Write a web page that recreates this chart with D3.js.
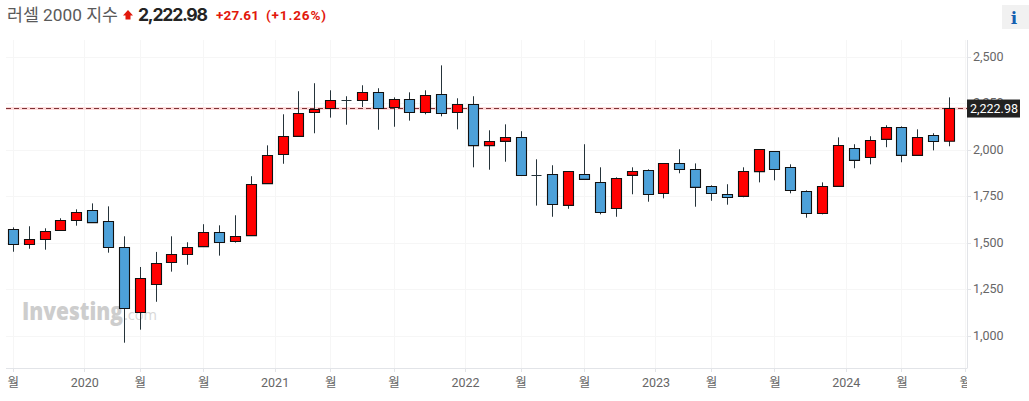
<!DOCTYPE html>
<html>
<head>
<meta charset="utf-8">
<script src="https://cdn.jsdelivr.net/npm/d3@7"></script>
<style>
    html, body { margin: 0; padding: 0; background: #fff; overflow: hidden; }
    text { font-family: Roboto, "Noto Sans CJK KR", sans-serif; }
</style>
</head>
<body>
<div id="chart"></div>
<script>
var months = ["2019-08","2019-09","2019-10","2019-11","2019-12","2020-01","2020-02","2020-03","2020-04","2020-05","2020-06","2020-07",
    "2020-08","2020-09","2020-10","2020-11","2020-12","2021-01","2021-02","2021-03","2021-04","2021-05","2021-06","2021-07",
    "2021-08","2021-09","2021-10","2021-11","2021-12","2022-01","2022-02","2022-03","2022-04","2022-05","2022-06","2022-07",
    "2022-08","2022-09","2022-10","2022-11","2022-12","2023-01","2023-02","2023-03","2023-04","2023-05","2023-06","2023-07",
    "2023-08","2023-09","2023-10","2023-11","2023-12","2024-01","2024-02","2024-03","2024-04","2024-05","2024-06","2024-07"];
var opens = [1574,1493,1520,1568,1622,1676,1617,1477,1127,1278,1396,1439,
    1482,1558,1509,1541,1821,1977,2074,2203,2224,2267,2267,2310,
    2230,2273,2203,2299,2203,2246,2025,2047,2068,1864,1869,1703,
    1869,1826,1687,1864,1891,1767,1928,1896,1805,1762,1751,1885,
    1993,1907,1778,1660,1805,2009,1961,2058,2122,1972,2079,2047];
var closes = [1493,1520,1563,1622,1665,1611,1477,1149,1310,1391,1439,1477,
    1558,1504,1536,1816,1972,2074,2197,2219,2267,2267,2310,2224,
    2273,2203,2294,2197,2246,2025,2047,2068,1864,1864,1708,1885,
    1843,1665,1848,1885,1762,1928,1896,1800,1767,1746,1885,2004,
    1896,1783,1660,1805,2025,1945,2052,2122,1972,2068,2047,2222.98];
var highs = [1584,1590,1579,1633,1681,1713,1697,1536,1371,1452,1536,1504,
    1601,1595,1649,1859,2025,2192,2316,2359,2321,2289,2348,2332,
    2283,2310,2321,2455,2278,2289,2106,2138,2101,1950,1918,1885,
    2031,1907,1853,1907,1896,1928,2004,1928,1810,1816,1907,2004,
    1993,1923,1783,1826,2068,2031,2074,2133,2127,2111,2090,2283];
var lows = [1453,1469,1464,1568,1593,1611,1448,964,1034,1184,1346,1383,
    1482,1432,1502,1541,1821,1926,2074,2090,2174,2136,2231,2109,
    2125,2158,2192,2181,2111,1907,1894,1937,1864,1701,1641,1684,
    1843,1654,1641,1762,1722,1740,1875,1695,1727,1706,1746,1826,
    1837,1767,1636,1654,1805,1902,1923,2015,1934,1972,1998,2020];

var yTicks = [1000,1250,1500,1750,2000,2250,2500];
var yearTicks = [4.5,16.5,28.5,40.5,52.5];
var yearLabels = ["2020","2021","2022","2023","2024"];
var monthTicks = [0,8,12,20,24,32,36,44,48,56,60];
var lastPrice = 2222.98;

var width = 1029, height = 401;
var plotLeft = 6, plotRight = 967, plotTop = 40, plotBottom = 368;

var svg = d3.select("#chart").append("svg")
    .attr("width", width)
    .attr("height", height)
    .style("display", "block");

var x = d3.scaleLinear().domain([0, 59]).range([13.3, 949.5]);
var y = d3.scaleLinear().domain([1000, 2500]).range([336, 57]);
var fmt = d3.format(",");
var snap = function(v) { return Math.floor(v) + 0.5; };

svg.append("defs").append("clipPath").attr("id", "xclip")
    .append("rect").attr("x", 0).attr("y", 368).attr("width", plotRight).attr("height", 33);

drawHeader();
drawGrid();
drawWatermark();
drawPriceLine();
drawCandles();
drawAxes();

function drawHeader() {
    svg.append("text").attr("x", 7).attr("y", 21).attr("font-size", 17.3).attr("fill", "#5a5a5a").text("러셀 2000 지수");
    svg.append("path")
        .attr("d", d3.line()([[128, 10], [133, 15.5], [130.5, 15.5], [130.5, 19.5], [125.5, 19.5], [125.5, 15.5], [123, 15.5]]) + "Z")
        .attr("fill", "#e2180c");
    svg.append("text").attr("x", 138).attr("y", 20.5).attr("font-size", 17.6).attr("font-weight", 700).attr("fill", "#242424")
        .style("font-family", "Inter, sans-serif").attr("textLength", 70).text("2,222.98");
    svg.append("text").attr("x", 216).attr("y", 20).attr("font-size", 13.5).attr("font-weight", 700).attr("fill", "#e2180c")
        .attr("textLength", 43).text("+27.61");
    svg.append("text").attr("x", 266).attr("y", 20).attr("font-size", 13.5).attr("font-weight", 700).attr("fill", "#e2180c")
        .attr("textLength", 60).text("(+1.26%)");

    svg.append("rect").attr("x", 1002).attr("y", 5).attr("width", 27).attr("height", 24).attr("fill", "#f1f1f1");
    svg.append("text").attr("x", 1014).attr("y", 23.5).attr("text-anchor", "middle")
        .style("font-family", "'DejaVu Serif', serif").attr("font-size", 17).attr("font-weight", 700)
        .attr("fill", "#1560b0").text("i");
}

function drawGrid() {
    svg.append("g").selectAll("line").data(yTicks).enter().append("line")
        .attr("x1", plotLeft).attr("x2", plotRight)
        .attr("y1", function(d) { return snap(y(d)); })
        .attr("y2", function(d) { return snap(y(d)); })
        .attr("stroke", "#f6f6f6");

    svg.append("g").selectAll("line").data(monthTicks.concat(yearTicks)).enter().append("line")
        .attr("x1", function(d) { return snap(x(d)); })
        .attr("x2", function(d) { return snap(x(d)); })
        .attr("y1", plotTop).attr("y2", plotBottom)
        .attr("stroke", "#f6f6f6");
}

function drawWatermark() {
    svg.append("text").attr("x", 22).attr("y", 320)
        .attr("font-size", 24).attr("font-weight", 800).attr("fill", "#cdcdcd")
        .style("font-family", "'Open Sans', sans-serif")
        .attr("textLength", 101).attr("lengthAdjust", "spacingAndGlyphs").text("Investing");
    svg.append("text").attr("x", 124).attr("y", 320)
        .attr("font-size", 15).attr("fill", "#d8d8d8")
        .style("font-family", "'Open Sans', sans-serif")
        .attr("textLength", 33).attr("lengthAdjust", "spacingAndGlyphs").text(".com");
}

function drawPriceLine() {
    svg.append("line").attr("x1", plotLeft).attr("x2", plotRight)
        .attr("y1", y(lastPrice)).attr("y2", y(lastPrice))
        .attr("stroke", "#ffdcdc").attr("stroke-width", 3);
    svg.append("line").attr("x1", plotLeft).attr("x2", plotRight)
        .attr("y1", y(lastPrice)).attr("y2", y(lastPrice))
        .attr("stroke", "#7c2f33").attr("stroke-dasharray", "5,3");
}

function drawCandles() {
    var candles = svg.append("g").selectAll("g").data(months).enter().append("g");

    candles.append("line")
        .attr("x1", function(d, i) { return snap(x(i)); })
        .attr("x2", function(d, i) { return snap(x(i)); })
        .attr("y1", function(d, i) { return y(highs[i]); })
        .attr("y2", function(d, i) { return y(lows[i]); })
        .attr("stroke", "#25333a");

    // path and not rect: a rect of height 0 draws nothing, and the flat months still need their bar
    candles.append("path")
        .attr("d", function(d, i) {
            var left = snap(x(i)) - 5;
            var top = snap(y(Math.max(opens[i], closes[i])));
            var h = Math.abs(y(opens[i]) - y(closes[i]));
            return "M" + left + "," + top + "h10v" + h + "h-10Z";
        })
        .attr("fill", function(d, i) { return closes[i] >= opens[i] ? "#ff0000" : "#4da1d9"; })
        .attr("stroke", function(d, i) { return opens[i] == closes[i] ? "#25333a" : "#111"; })
        .attr("stroke-width", 1.1);
}

function drawAxes() {
    svg.append("line").attr("x1", plotLeft).attr("x2", plotRight + 0.5).attr("y1", plotBottom + 0.5).attr("y2", plotBottom + 0.5)
        .attr("stroke", "#e2e4e8").attr("stroke-width", 1);
    svg.append("line").attr("x1", plotRight + 0.5).attr("x2", plotRight + 0.5).attr("y1", plotTop).attr("y2", plotBottom)
        .attr("stroke", "#e2e4e8").attr("stroke-width", 1);

    var yAxis = svg.append("g");
    yAxis.selectAll("line").data(yTicks).enter().append("line")
        .attr("x1", plotRight).attr("x2", plotRight + 4)
        .attr("y1", function(d) { return snap(y(d)); })
        .attr("y2", function(d) { return snap(y(d)); })
        .attr("stroke", "#e2e4e8");
    yAxis.selectAll("text").data(yTicks).enter().append("text")
        .attr("x", 973)
        .attr("y", function(d) { return y(d) + 3.5; })
        .attr("font-size", 12.5).attr("fill", "#666")
        .text(function(d) { return fmt(d); });

    var xAxis = svg.append("g");
    xAxis.selectAll("line").data(monthTicks.concat(yearTicks)).enter().append("line")
        .attr("x1", function(d) { return snap(x(d)); })
        .attr("x2", function(d) { return snap(x(d)); })
        .attr("y1", plotBottom).attr("y2", plotBottom + 4)
        .attr("stroke", "#e2e4e8");
    xAxis.selectAll("text.year").data(yearTicks).enter().append("text").attr("class", "year")
        .attr("x", function(d) { return x(d); })
        .attr("y", 387).attr("text-anchor", "middle")
        .attr("font-size", 12.5).attr("fill", "#666")
        .text(function(d, i) { return yearLabels[i]; });
    xAxis.append("g").attr("clip-path", "url(#xclip)")
        .selectAll("text").data(monthTicks).enter().append("text")
        .attr("x", function(d) { return x(d); })
        .attr("y", 387).attr("text-anchor", "middle")
        .attr("font-size", 12.5).attr("fill", "#666")
        .text("월");

    svg.append("rect").attr("x", plotRight).attr("y", y(lastPrice) - 9).attr("width", 53).attr("height", 18).attr("fill", "#222");
    svg.append("text").attr("x", plotRight + 27).attr("y", y(lastPrice) + 4.5).attr("text-anchor", "middle")
        .attr("font-size", 12.5).attr("fill", "#fff").text("2,222.98");
}
</script>
</body>
</html>
